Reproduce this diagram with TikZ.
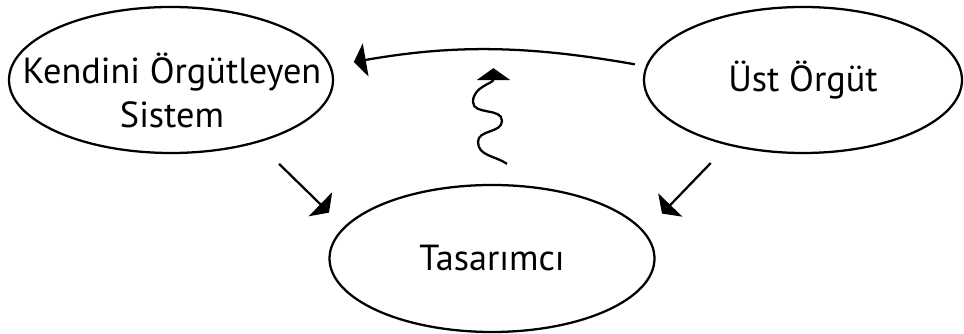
\documentclass[tikz,border=0pt]{standalone}
\usepackage{fontspec}
\setmainfont{PT Sans}
\usetikzlibrary{shapes.geometric,arrows.meta,calc}
\begin{document}
\begin{tikzpicture}[x=0.75pt,y=0.75pt,
  ell/.style={draw=black, line width=1.7pt, ellipse, inner sep=0pt, font=\fontsize{27.2}{32}\selectfont},
  txt/.style={inner sep=0pt, anchor=base, font=\fontsize{27.2}{32}\selectfont},
  arr/.style={line width=1.7pt, -{Triangle[length=9pt,width=25pt]}},
]
\useasboundingbox (0,0) rectangle (964,334);
% nodes
\node[ell, minimum width=243pt, minimum height=109.5pt] (kos) at (171,254) {};
\node[txt] (kos1) at ([shift={(1,-4)}]kos.center) {Kendini Örgütleyen};
\node[txt] (kos2) at ([shift={(1,-48)}]kos.center) {Sistem};
\node[ell, minimum width=238.5pt, minimum height=109.5pt] (os) at (803,254) {Üst Örgüt};
\node[ell, minimum width=243.75pt, minimum height=110.25pt] (tas) at (492,75.5) {Tasarımcı};
% connectors
\draw[arr, shorten <=8.25pt, shorten >=17.25pt] (os.175) to[bend right=10] coordinate[pos=0.5] (mid) (kos.5);
\draw[arr, shorten <=22.5pt, shorten >=15.4pt] (kos.-36.4) -- (tas.168);
\draw[arr, shorten <=18.4pt, shorten >=18.75pt] (os.221.3) -- (tas.10.4);
\coordinate (w0) at ([shift={(15,20)}]tas.north);
\coordinate (w1) at ([shift={(5,-18)}]mid);
\draw[arr] (w0) to[out=145,in=-90] ++(-29,22) to[out=90,in=-90] ++(24,21) to[out=90,in=-90] ++(-29,19) to[out=90,in=-90] (w1);
\end{tikzpicture}
\end{document}
